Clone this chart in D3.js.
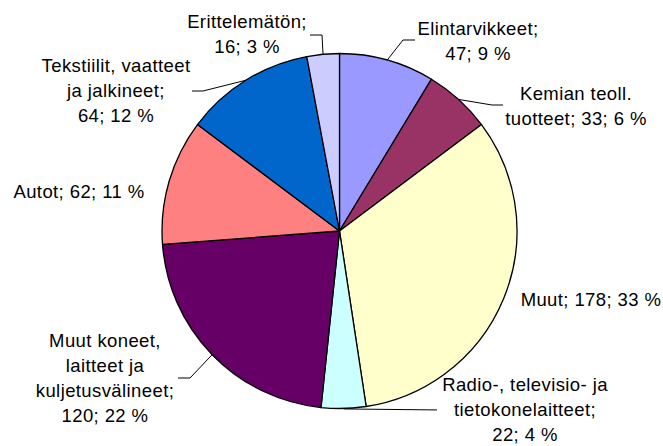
<!DOCTYPE html>
<html>
<head>
<meta charset="utf-8">
<script src="https://cdn.jsdelivr.net/npm/d3@7"></script>
<style>
  html, body { margin: 0; padding: 0; background: #fff; }
  svg { display: block; }
  text { font-family: "Liberation Sans", Arial, sans-serif; font-size: 18.5px; letter-spacing: 0.4px; fill: #000; }
</style>
</head>
<body>
<svg id="chart" width="663" height="446"></svg>
<script>
// ---- data ----
const categories = [
  "Elintarvikkeet",
  "Kemian teoll. tuotteet",
  "Muut",
  "Radio-, televisio- ja tietokonelaitteet",
  "Muut koneet, laitteet ja kuljetusvälineet",
  "Autot",
  "Tekstiilit, vaatteet ja jalkineet",
  "Erittelemätön"
];
const values = [47, 33, 178, 22, 120, 62, 64, 16];
const percents = [9, 6, 33, 4, 22, 11, 12, 3];
const labelLines = [
  ["Elintarvikkeet;", "47; 9 %"],
  ["Kemian teoll.", "tuotteet; 33; 6 %"],
  ["Muut; 178; 33 %"],
  ["Radio-, televisio- ja", "tietokonelaitteet;", "22; 4 %"],
  ["Muut koneet,", "laitteet ja", "kuljetusvälineet;", "120; 22 %"],
  ["Autot; 62; 11 %"],
  ["Tekstiilit, vaatteet", "ja jalkineet;", "64; 12 %"],
  ["Erittelemätön;", "16; 3 %"]
];
const colors = ["#9999FF", "#993366", "#FFFFCC", "#CCFFFF", "#660066", "#FF8080", "#0066CC", "#CCCCFF"];

// ---- layout (label anchors: centre x, first baseline y; leader elbow/end) ----
const labelPos = [
  [478, 35], [576, 100], [591, 306], [525, 391],
  [105, 347], [79, 198], [116, 72], [247, 28]
];
// leader: [elbowX, elbowY, endX, endY] or null
const leaders = [
  [403, 40, 415, 40],
  [492, 105, 503, 105],
  null,
  null, // horizontal line handled below
  [190, 378, 178, 378],
  null,
  [203, 91, 192, 91],
  [322, 35, 310, 35]
];

const cx = 339.5, cy = 231, r = 177.5;
const svg = d3.select("#chart");

const pie = d3.pie().sort(null).value(d => d)
  .startAngle(0).endAngle(2 * Math.PI);
const arcs = pie(values);
const arc = d3.arc().innerRadius(0).outerRadius(r);

const g = svg.append("g").attr("transform", `translate(${cx},${cy})`);
g.selectAll("path.slice").data(arcs).join("path")
  .attr("class", "slice")
  .attr("d", arc)
  .attr("fill", (d, i) => colors[i])
  .attr("stroke", "#000")
  .attr("stroke-width", 1.3)
  .attr("stroke-linejoin", "round");

// leader lines
arcs.forEach((d, i) => {
  const mid = (d.startAngle + d.endAngle) / 2;
  const px = cx + r * Math.sin(mid);
  const py = cy - r * Math.cos(mid);
  let pts = null;
  if (leaders[i]) {
    const L = leaders[i];
    pts = [[px, py], [L[0], L[1]], [L[2], L[3]]];
  } else if (i === 3) {
    pts = [[px, py + 0.5], [437, py + 1.5]];
  }
  if (pts) {
    svg.append("path")
      .attr("d", d3.line()(pts))
      .attr("fill", "none")
      .attr("stroke", "#000")
      .attr("stroke-width", 1);
  }
});

// labels
labelLines.forEach((lines, i) => {
  const t = svg.append("text")
    .attr("text-anchor", "middle")
    .attr("x", labelPos[i][0])
    .attr("y", labelPos[i][1]);
  lines.forEach((s, k) => {
    t.append("tspan")
      .attr("x", labelPos[i][0])
      .attr("dy", k === 0 ? 0 : 25)
      .text(s);
  });
});
</script>
</body>
</html>
